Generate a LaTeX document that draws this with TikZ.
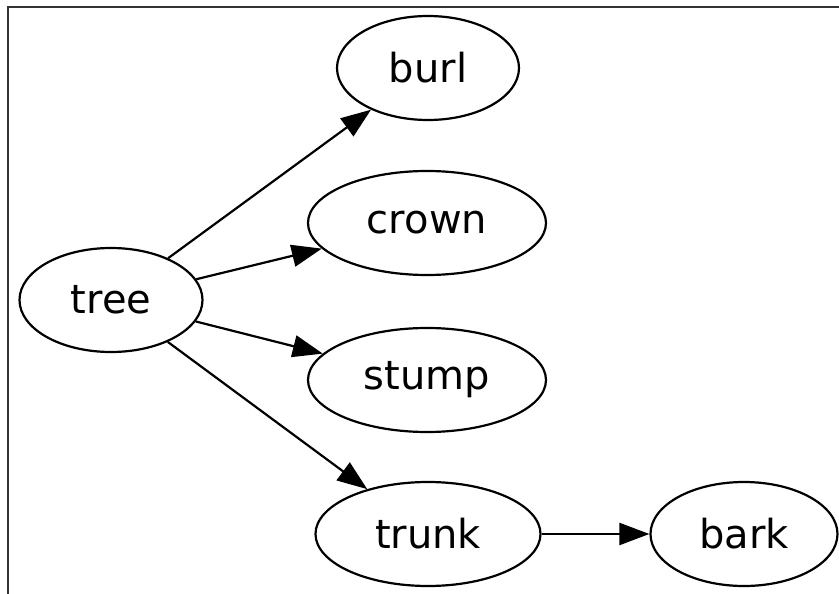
\documentclass[tikz,border=0pt]{standalone}
\usepackage{fontspec}
\setmainfont{DejaVu Sans}
\usetikzlibrary{shapes.geometric,arrows.meta}

\begin{document}
\begin{tikzpicture}[x = 1pt, y = -1pt,
      part/.style = {ellipse, draw, line width = 2.2pt, inner sep = 0pt,
                     minimum height = 104pt, font = \fontsize{40}{48}\selectfont},
      link/.style = {line width = 2.2pt, -{Triangle[length = 30pt, width = 22pt]}}]
      \useasboundingbox (0,0) rectangle (839,594);
      \draw[line width = 2.6pt, black!80] (839,7) -- (8,7) -- (8,594);

      \node[part, minimum width = 183pt] (tree)  at (111,300) {tree};
      \node[part, minimum width = 182pt] (burl)  at (428,68)  {burl};
      \node[part, minimum width = 238pt] (crown) at (427,223) {crown};
      \node[part, minimum width = 238pt] (stump) at (427,380) {stump};
      \node[part, minimum width = 225pt] (trunk) at (428,534) {trunk};
      \node[part, minimum width = 187pt] (bark)  at (744,534) {bark};

      \draw[link] (tree) -- (burl);
      \draw[link] (tree) -- (crown);
      \draw[link] (tree) -- (stump);
      \draw[link] (tree) -- (trunk);
      \draw[link] (trunk) -- (bark);
\end{tikzpicture}
\end{document}
